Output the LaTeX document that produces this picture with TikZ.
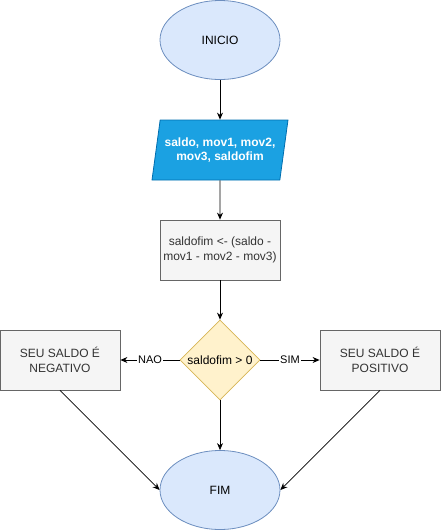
\documentclass[tikz,border=0pt]{standalone}
\usepackage{fontspec}
\setmainfont{Liberation Sans}
\usetikzlibrary{shapes.geometric,arrows.meta}

\definecolor{azulclaro}{HTML}{DAE8FC}
\definecolor{azulborde}{HTML}{6C8EBF}
\definecolor{azul}{HTML}{1BA1E2}
\definecolor{azuloscuro}{HTML}{006EAF}
\definecolor{grisclaro}{HTML}{F5F5F5}
\definecolor{grisborde}{HTML}{666666}
\definecolor{gristexto}{HTML}{333333}
\definecolor{amarillo}{HTML}{FFF2CC}
\definecolor{amarilloborde}{HTML}{D6B656}

\tikzset{
    terminal/.style={ellipse, draw=azulborde, fill=azulclaro, line width=0.8pt,
        minimum width=120, minimum height=79, inner sep=0pt,
        font=\fontsize{12}{14}\selectfont},
    entrada/.style={trapezium, trapezium left angle=71.6, trapezium right angle=108.4,
        trapezium stretches body, draw=azuloscuro, fill=azul, line width=0.8pt,
        minimum width=136, minimum height=60, inner sep=0pt, align=center,
        text=white, font=\fontsize{12}{14}\selectfont\bfseries},
    proceso/.style={rectangle, draw=grisborde, fill=grisclaro, line width=0.8pt,
        minimum width=120, minimum height=60, inner sep=0pt, align=center,
        text=gristexto, font=\fontsize{12}{14.5}\selectfont},
    decision/.style={diamond, draw=amarilloborde, fill=amarillo, line width=0.8pt,
        minimum width=80, minimum height=80, inner sep=0pt, aspect=1,
        font=\fontsize{12}{14}\selectfont},
    flecha/.style={-{Stealth[length=7pt,width=6pt]}, line width=0.8pt},
    etiqueta/.style={fill=white, inner sep=1pt, font=\fontsize{11}{13}\selectfont}
}

\begin{document}
\begin{tikzpicture}[x=1pt, y=-1pt]
    % Fijar el marco
    \useasboundingbox (0,0) rectangle (441,531);

    % Nodos del diagrama
    \node[terminal] (inicio) at (220,40) {INICIO};
    \node[entrada] (datos) at (220,150) {saldo, mov1, mov2,\\mov3, saldofim};
    \node[proceso] (calculo) at (220,250) {saldofim <- (saldo -\\mov1 - mov2 - mov3)};
    \node[decision] (pregunta) at (220,360) {saldofim > 0};
    \node[proceso] (negativo) at (60,360) {SEU SALDO É\\NEGATIVO};
    \node[proceso] (positivo) at (380,360) {SEU SALDO É\\POSITIVO};
    \node[terminal] (fim) at (220,490) {FIM};

    % Conectores
    \draw[flecha] (inicio) -- (datos);
    \draw[flecha] (datos) -- (calculo);
    \draw[flecha] (calculo) -- (pregunta);
    \draw[flecha] (pregunta) -- node[etiqueta] {NAO} (negativo);
    \draw[flecha] (pregunta) -- node[etiqueta] {SIM} (positivo);
    \draw[flecha] (pregunta) -- (fim);
    \draw[flecha] (negativo.south) -- (fim.west);
    \draw[flecha] (positivo.south) -- (fim.east);
\end{tikzpicture}
\end{document}
